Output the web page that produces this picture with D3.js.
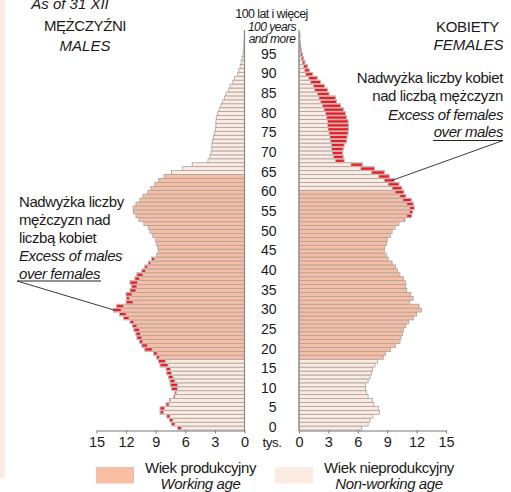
<!DOCTYPE html>
<html>
<head>
<meta charset="utf-8">
<script src="https://cdn.jsdelivr.net/npm/d3@7"></script>
<style>
  body { margin: 0; background: #fff; }
  svg { display: block; font-family: "Liberation Sans", Arial, sans-serif; }
  .axis path, .axis line { stroke: #777; }
  .axis text { font-size: 14.5px; fill: #1a1a1a; font-family: "Liberation Sans", Arial, sans-serif; }
</style>
</head>
<body>
<div id="container"></div>
<script>
var width = 511;
var height = 492;

// ages 0..100 (100 = "100 lat i więcej")
var ages = d3.range(0, 101);
var ageLabels = [0, 5, 10, 15, 20, 25, 30, 35, 40, 45, 50, 55, 60, 65, 70, 75, 80, 85, 90, 95];
var xTicks = [0, 3, 6, 9, 12, 15];

// thousands of persons, index = age
var males = [6.8, 7.38, 7.6, 7.87, 8.55, 8.55, 7.94, 7.6, 7.15, 7.05,
  7.38, 7.48, 7.55, 7.7, 7.87, 7.94, 8.55, 8.71, 8.9, 9.23,
  10.1, 10.4, 10.65, 10.9, 11.0, 11.2, 11.33, 11.6, 12.27, 12.68,
  13.3, 12.95, 12.0, 11.95, 12.0, 11.6, 11.43, 11.6, 11.1, 10.9,
  10.4, 10.1, 9.75, 9.4, 8.9, 8.7, 8.8, 8.95, 9.05, 9.3,
  9.57, 9.75, 10.2, 10.7, 11.0, 11.25, 11.3, 11.0, 10.6, 10.3,
  9.8, 9.5, 9.1, 8.7, 8.15, 7.4, 6.3, 5.3, 3.7, 3.5,
  3.4, 3.3, 3.3, 3.23, 3.16, 3.06, 2.96, 2.9, 2.89, 2.82,
  2.72, 2.55, 2.38, 2.21, 2.04, 1.87, 1.6, 1.46, 1.19, 1.0,
  0.68, 0.58, 0.44, 0.34, 0.24, 0.15, 0.1, 0.07, 0.05, 0.03,
  0.03];
var females = [6.4, 7.05, 7.25, 7.55, 8.2, 8.1, 7.65, 7.5, 7.05, 6.9,
  6.8, 6.8, 7.05, 7.25, 7.4, 7.5, 7.75, 8.0, 8.6, 8.85,
  9.35, 9.85, 10.3, 10.4, 10.55, 10.65, 10.9, 11.2, 11.7, 12.0,
  12.5, 12.25, 11.3, 11.65, 11.4, 11.0, 10.9, 10.85, 10.65, 10.3,
  10.05, 9.85, 9.5, 9.1, 8.95, 8.7, 8.75, 8.95, 9.0, 9.35,
  9.5, 9.8, 10.2, 10.8, 11.5, 11.6, 11.75, 11.65, 11.45, 10.9,
  10.7, 10.5, 10.2, 9.7, 9.2, 8.7, 7.7, 6.45, 4.6, 4.5,
  4.45, 4.5, 4.6, 4.86, 4.9, 5.0, 5.03, 5.03, 5.0, 4.86,
  4.76, 4.52, 4.25, 3.84, 3.74, 3.06, 2.9, 2.6, 2.2, 1.85,
  1.4, 1.05, 0.85, 0.6, 0.45, 0.34, 0.25, 0.18, 0.12, 0.08,
  0.1];

// working age ranges
var workMale = [18, 64];
var workFemale = [18, 60];

var colWork = "#f8bea4", colNon = "#fcebe2", colRed = "#ec1c24", colEdge = "#a9a2a0";

var svg = d3.select("div#container").append("svg")
    .attr("width", width)
    .attr("height", height);

// pale strip on the left edge
svg.append("rect").attr("x", 0).attr("y", 0).attr("width", 5).attr("height", 478).attr("fill", "#fcebe2");

var xL = d3.scaleLinear().domain([0, 15]).range([244.5, 96.5]);
var xR = d3.scaleLinear().domain([0, 15]).range([299, 446]);
var y = d3.scaleBand().domain(ages.slice().reverse()).range([33, 430]);

var rows = ages.map(function(a) { return {age: a, m: males[a], f: females[a]}; });

function fillFor(a, w) { return (a >= w[0] && a <= w[1]) ? colWork : colNon; }

// male bars
svg.append("g").selectAll("rect")
    .data(rows).enter().append("rect")
    .attr("x", function(d) { return xL(d.m); })
    .attr("y", function(d) { return y(d.age); })
    .attr("width", function(d) { return xL(0) - xL(d.m); })
    .attr("height", y.bandwidth())
    .attr("fill", function(d) { return fillFor(d.age, workMale); })
    .attr("stroke", colEdge).attr("stroke-width", 0.8);

// female bars
svg.append("g").selectAll("rect")
    .data(rows).enter().append("rect")
    .attr("x", xR(0))
    .attr("y", function(d) { return y(d.age); })
    .attr("width", function(d) { return xR(d.f) - xR(0); })
    .attr("height", y.bandwidth())
    .attr("fill", function(d) { return fillFor(d.age, workFemale); })
    .attr("stroke", colEdge).attr("stroke-width", 0.8);

// excess of males (left) and of females (right)
svg.append("g").selectAll("rect")
    .data(rows.filter(function(d) { return d.m > d.f; })).enter().append("rect")
    .attr("x", function(d) { return xL(d.m); })
    .attr("y", function(d) { return y(d.age) + 0.4; })
    .attr("width", function(d) { return xL(d.f) - xL(d.m); })
    .attr("height", y.bandwidth() - 0.8)
    .attr("fill", colRed).attr("stroke", "#c9c3c3").attr("stroke-width", 0.8);

svg.append("g").selectAll("rect")
    .data(rows.filter(function(d) { return d.f > d.m; })).enter().append("rect")
    .attr("x", function(d) { return xR(d.m); })
    .attr("y", function(d) { return y(d.age) + 0.4; })
    .attr("width", function(d) { return xR(d.f) - xR(d.m); })
    .attr("height", y.bandwidth() - 0.8)
    .attr("fill", colRed).attr("stroke", "#c9c3c3").attr("stroke-width", 0.8);

// vertical axes
[xL(0), xR(0)].forEach(function(x) {
  svg.append("line").attr("x1", x).attr("x2", x).attr("y1", 30).attr("y2", 431)
     .attr("stroke", "#8a8a8a").attr("stroke-width", 1.2);
});

// bottom axes
svg.append("g").attr("class", "axis").attr("transform", "translate(0,430.5)")
    .call(d3.axisBottom(xL).tickValues(xTicks).tickSize(3).tickPadding(3).tickSizeOuter(0));
svg.append("g").attr("class", "axis").attr("transform", "translate(0,430.5)")
    .call(d3.axisBottom(xR).tickValues(xTicks).tickSize(3).tickPadding(3).tickSizeOuter(0));

// age labels
svg.append("g").selectAll("text")
    .data(ageLabels).enter().append("text")
    .attr("x", 276.5)
    .attr("y", function(a) { return y(a) + y.bandwidth() / 2 - 0.8; })
    .attr("dy", "0.35em")
    .attr("text-anchor", "end")
    .attr("font-size", 14)
    .attr("fill", "#1a1a1a")
    .text(function(a) { return a; });

function txt(x, yy, s, size, anchor, italic) {
  return svg.append("text").attr("x", x).attr("y", yy).attr("font-size", size)
    .attr("text-anchor", anchor || "start").attr("fill", "#1a1a1a")
    .attr("font-style", italic ? "italic" : "normal").text(s);
}

txt(272, 447, "tys.", 13.5, "middle").attr("letter-spacing", -0.5);

// top center
txt(271.5, 18, "100 lat i więcej", 12.5, "middle").attr("letter-spacing", -0.6);
txt(272, 31, "100 years", 12, "middle", true).attr("letter-spacing", -0.5);
txt(272, 42.5, "and more", 12, "middle", true).attr("letter-spacing", -0.5);

// titles
txt(70, 9, "As of 31 XII", 15, "middle", true);
txt(85, 31, "MĘŻCZYŹNI", 15, "middle").attr("letter-spacing", -0.4);
txt(85, 51, "MALES", 15, "middle", true);
txt(467.5, 31.5, "KOBIETY", 15, "middle").attr("letter-spacing", -0.3);
txt(468.5, 50, "FEMALES", 15, "middle", true);

// left annotation
var leftNote = ["Nadwyżka liczby", "mężczyzn nad", "liczbą kobiet"];
var leftNoteEn = ["Excess of males", "over females"];
leftNote.forEach(function(s, i) { txt(19, 207 + i * 18, s, 15).attr("letter-spacing", -0.4); });
leftNoteEn.forEach(function(s, i) { txt(19, 261 + i * 17.5, s, 15, "start", true).attr("letter-spacing", -0.4); });
svg.append("line").attr("x1", 17).attr("x2", 101).attr("y1", 281).attr("y2", 281).attr("stroke", "#222");
svg.append("line").attr("x1", 17).attr("x2", xL(males[30]) + 1).attr("y1", 281).attr("y2", y(30) + y.bandwidth() / 2)
    .attr("stroke", "#222").attr("stroke-width", 0.9);

// right annotation
var rightNote = ["Nadwyżka liczby kobiet", "nad liczbą mężczyzn"];
var rightNoteEn = ["Excess of females", "over males"];
rightNote.forEach(function(s, i) { txt(503, 83 + i * 18, s, 15, "end").attr("letter-spacing", -0.4); });
rightNoteEn.forEach(function(s, i) { txt(503, 119.5 + i * 17.5, s, 15, "end", true).attr("letter-spacing", -0.4); });
svg.append("line").attr("x1", 433).attr("x2", 503).attr("y1", 140.5).attr("y2", 140.5).attr("stroke", "#222");
svg.append("line").attr("x1", 503).attr("x2", xR(females[63]) - 2).attr("y1", 140.5).attr("y2", y(63) + y.bandwidth() / 2)
    .attr("stroke", "#222").attr("stroke-width", 0.9);

// legend
var legend = [
  {fill: colWork, pl: "Wiek produkcyjny", en: "Working age", x: 96, tx: 200.5},
  {fill: colNon, pl: "Wiek nieprodukcyjny", en: "Non-working age", x: 275, tx: 389}
];
legend.forEach(function(l) {
  svg.append("rect").attr("x", l.x).attr("y", 467).attr("width", 38).attr("height", 16.5).attr("fill", l.fill);
  txt(l.tx, 473, l.pl, 15, "middle").attr("letter-spacing", -0.4);
  txt(l.tx, 488.5, l.en, 15, "middle", true).attr("letter-spacing", -0.4);
});
</script>
</body>
</html>
